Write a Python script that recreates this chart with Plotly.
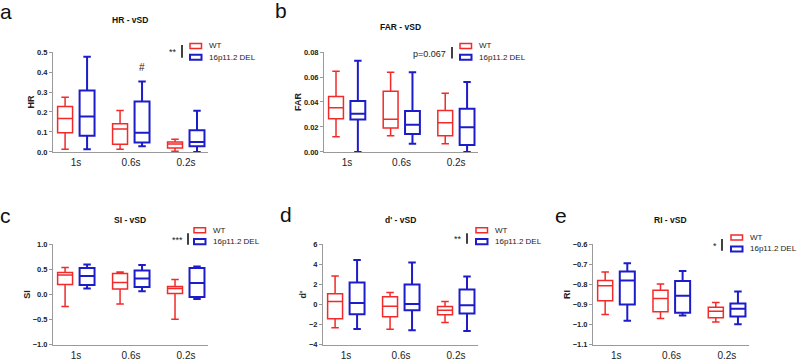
import plotly.graph_objects as go

W, H = 798, 361
FONT = "Liberation Sans, Arial, sans-serif"
RED = "#f22a2a"
BLUE = "#1c1cc8"
AXC = "#9a9a9a"

categories = ["1s", "0.6s", "0.2s"]
groups = ["WT", "16p11.2 DEL"]

# ---- HR ----
hr_wt_min = [0.013, 0.013, 0.003]
hr_wt_q1 = [0.096, 0.039, 0.019]
hr_wt_med = [0.167, 0.115, 0.040]
hr_wt_q3 = [0.227, 0.141, 0.050]
hr_wt_max = [0.274, 0.208, 0.063]
hr_del_min = [0.013, 0.029, 0.0]
hr_del_q1 = [0.081, 0.047, 0.029]
hr_del_med = [0.177, 0.096, 0.050]
hr_del_q3 = [0.307, 0.252, 0.109]
hr_del_max = [0.476, 0.352, 0.206]

# ---- FAR ----
far_wt_min = [0.0122, 0.013, 0.0065]
far_wt_q1 = [0.0265, 0.0192, 0.013]
far_wt_med = [0.0353, 0.0262, 0.0234]
far_wt_q3 = [0.0444, 0.0486, 0.0332]
far_wt_max = [0.0647, 0.0639, 0.047]
far_del_min = [0.0, 0.0065, 0.0]
far_del_q1 = [0.026, 0.0143, 0.0055]
far_del_med = [0.0306, 0.0218, 0.0197]
far_del_q3 = [0.0408, 0.0327, 0.0345]
far_del_max = [0.073, 0.0639, 0.056]

# ---- SI ----
si_wt_min = [-0.24, -0.19, -0.49]
si_wt_q1 = [0.20, 0.11, 0.02]
si_wt_med = [0.39, 0.24, 0.12]
si_wt_q3 = [0.44, 0.42, 0.16]
si_wt_max = [0.54, 0.45, 0.30]
si_del_min = [0.12, 0.065, -0.09]
si_del_q1 = [0.19, 0.15, -0.05]
si_del_med = [0.37, 0.32, 0.23]
si_del_q3 = [0.53, 0.48, 0.53]
si_del_max = [0.60, 0.59, 0.56]

# ---- d' ----
dp_wt_min = [-2.30, -2.46, -1.77]
dp_wt_q1 = [-1.41, -1.21, -1.02]
dp_wt_med = [0.30, -0.16, -0.56]
dp_wt_q3 = [1.08, 0.79, -0.20]
dp_wt_max = [2.85, 1.20, 0.30]
dp_del_min = [-2.43, -2.56, -2.62]
dp_del_q1 = [-0.95, -0.56, -0.89]
dp_del_med = [0.16, 0.07, -0.07]
dp_del_q3 = [2.20, 2.00, 1.51]
dp_del_max = [4.43, 4.20, 2.79]

# ---- RI ----
ri_wt_min = [-0.949, -0.969, -0.986]
ri_wt_q1 = [-0.881, -0.936, -0.965]
ri_wt_med = [-0.806, -0.869, -0.933]
ri_wt_q3 = [-0.780, -0.829, -0.913]
ri_wt_max = [-0.738, -0.798, -0.889]
ri_del_min = [-0.980, -0.954, -0.998]
ri_del_q1 = [-0.899, -0.941, -0.959]
ri_del_med = [-0.780, -0.856, -0.920]
ri_del_q3 = [-0.735, -0.782, -0.894]
ri_del_max = [-0.694, -0.733, -0.835]

panel_letters = ["a", "b", "c", "d", "e"]
panel_titles = ["HR - vSD", "FAR - vSD", "SI - vSD", "d' - vSD", "RI - vSD"]
y_titles = ["HR", "FAR", "SI", "d'", "RI"]
sig_labels = ["**", "p=0.067", "***", "**", "*"]
extra_mark = "#"

wt_stats = [
    (hr_wt_min, hr_wt_q1, hr_wt_med, hr_wt_q3, hr_wt_max),
    (far_wt_min, far_wt_q1, far_wt_med, far_wt_q3, far_wt_max),
    (si_wt_min, si_wt_q1, si_wt_med, si_wt_q3, si_wt_max),
    (dp_wt_min, dp_wt_q1, dp_wt_med, dp_wt_q3, dp_wt_max),
    (ri_wt_min, ri_wt_q1, ri_wt_med, ri_wt_q3, ri_wt_max),
]
del_stats = [
    (hr_del_min, hr_del_q1, hr_del_med, hr_del_q3, hr_del_max),
    (far_del_min, far_del_q1, far_del_med, far_del_q3, far_del_max),
    (si_del_min, si_del_q1, si_del_med, si_del_q3, si_del_max),
    (dp_del_min, dp_del_q1, dp_del_med, dp_del_q3, dp_del_max),
    (ri_del_min, ri_del_q1, ri_del_med, ri_del_q3, ri_del_max),
]

# layout (pixels): axis left, axis right, axis top, axis bottom
panel_px = [
    (53, 208, 49.3, 151.7),
    (324, 478, 49.3, 151.7),
    (53, 208, 246.5, 349.5),
    (323, 478, 246.5, 349.5),
    (593, 749, 246.5, 349.5),
]
y_ranges = [(0, 0.5), (0, 0.08), (-1.0, 1.0), (-4, 6), (-1.1, -0.6)]
y_dticks = [0.1, 0.02, 0.5, 2, 0.1]
y_formats = [".1f", ".2f", ".1f", "d", ".1f"]
letter_pos = [(6, 8), (281, 7), (5, 217), (286, 216), (561, 217)]
title_pos = [(130, 16), (400, 24), (130, 222), (400, 222), (670, 222)]
legend_pos = [(190, 43), (460, 43), (194, 232), (476, 232), (731, 239.5)]
sig_pos = [(182, 42, 55), (452, 44, 56), (188, 235, 247), (467, 235, 246), (722, 241, 253)]


def px(x):
    return x / W


def py(y):
    return 1 - y / H


fig = go.Figure()
layout = dict(
    width=W, height=H,
    margin=dict(l=0, r=0, t=0, b=0),
    paper_bgcolor="white", plot_bgcolor="white",
    boxmode="group", boxgap=0.2, boxgroupgap=0.32,
    showlegend=False,
    font=dict(family=FONT, color="#222222"),
)
annotations = []
shapes = []

for i in range(5):
    sfx = "" if i == 0 else str(i + 1)
    xa, ya = "x" + sfx, "y" + sfx
    for stats, color, lw, name, og in [(wt_stats[i], RED, 1.5, groups[0], "wt"),
                                        (del_stats[i], BLUE, 2.0, groups[1], "del")]:
        mn, q1, md, q3, mx = stats
        fig.add_trace(go.Box(
            x=categories, q1=q1, median=md, q3=q3,
            lowerfence=mn, upperfence=mx,
            orientation="v", name=name,
            alignmentgroup="panel%d" % i, offsetgroup=og,
            boxpoints=False, whiskerwidth=0.5,
            line=dict(color=color, width=lw),
            fillcolor="rgba(255,255,255,0)",
            xaxis=xa, yaxis=ya, hoverinfo="skip",
        ))
    l, r, t, b = panel_px[i]
    layout["xaxis" + sfx] = dict(
        domain=[px(l), px(r)], anchor=ya, range=[-0.42, 2.4],
        showline=True, linecolor=AXC, linewidth=1, showgrid=False,
        zeroline=False, ticks="", ticklen=0,
        tickfont=dict(size=10, family=FONT, color="#222"),
        ticklabelstandoff=1,
    )
    y0, y1 = y_ranges[i]
    layout["yaxis" + sfx] = dict(
        domain=[py(b), py(t)], anchor=xa, range=[y0, y1],
        showline=True, linecolor=AXC, linewidth=1, showgrid=False,
        zeroline=False, ticks="outside", ticklen=3, tickcolor=AXC, tickwidth=1,
        dtick=y_dticks[i], tick0=y0, tickformat=y_formats[i],
        tickfont=dict(size=7.5, family=FONT, color="#222", weight="bold"),
        title=dict(text=y_titles[i], standoff=0,
                   font=dict(size=9, family=FONT, color="#222", weight="bold")),
    )
    # panel letter
    lx, ly = letter_pos[i]
    annotations.append(dict(text=panel_letters[i], x=px(lx), y=py(ly), xref="paper", yref="paper",
                            xanchor="center", yanchor="middle", showarrow=False,
                            font=dict(size=21, family=FONT, color="#111")))
    # title
    tx, ty = title_pos[i]
    annotations.append(dict(text=panel_titles[i], x=px(tx), y=py(ty), xref="paper", yref="paper",
                            xanchor="center", yanchor="middle", showarrow=False,
                            font=dict(size=8.5, family=FONT, color="#111", weight="bold")))
    # legend
    gx, gy = legend_pos[i]
    for k, (color, lw) in enumerate([(RED, 1.5), (BLUE, 2.0)]):
        cy = gy + k * 11.7
        shapes.append(dict(type="rect", xref="paper", yref="paper",
                           x0=px(gx), x1=px(gx + 11.5), y0=py(cy - 2.6), y1=py(cy + 2.6),
                           line=dict(color=color, width=lw), fillcolor="rgba(0,0,0,0)"))
        annotations.append(dict(text=groups[k], x=px(gx + 17), y=py(cy), xref="paper", yref="paper",
                                xanchor="left", yanchor="middle", showarrow=False,
                                font=dict(size=8, family=FONT, color="#222")))
    # significance
    sx, sy0, sy1 = sig_pos[i]
    shapes.append(dict(type="line", xref="paper", yref="paper",
                       x0=px(sx), x1=px(sx), y0=py(sy0), y1=py(sy1),
                       line=dict(color="#111", width=1.6)))
    annotations.append(dict(text=sig_labels[i], x=px(sx - 3.5), y=py((sy0 + sy1) / 2 + 1),
                            xref="paper", yref="paper", xanchor="right", yanchor="middle",
                            showarrow=False, font=dict(size=9, family=FONT, color="#222")))

# '#' mark above DEL 0.6s in panel a
annotations.append(dict(text=extra_mark, x=categories[1], y=hr_del_max[1] + 0.07, xref="x", yref="y",
                        xshift=11, xanchor="center", yanchor="middle", showarrow=False,
                        font=dict(size=10, family=FONT, color="#222")))

layout["annotations"] = annotations
layout["shapes"] = shapes
fig.update_layout(**layout)
fig.write_html("out.html", config={"displayModeBar": False},
               post_script="document.body.style.margin='0';document.body.style.overflow='hidden';")
